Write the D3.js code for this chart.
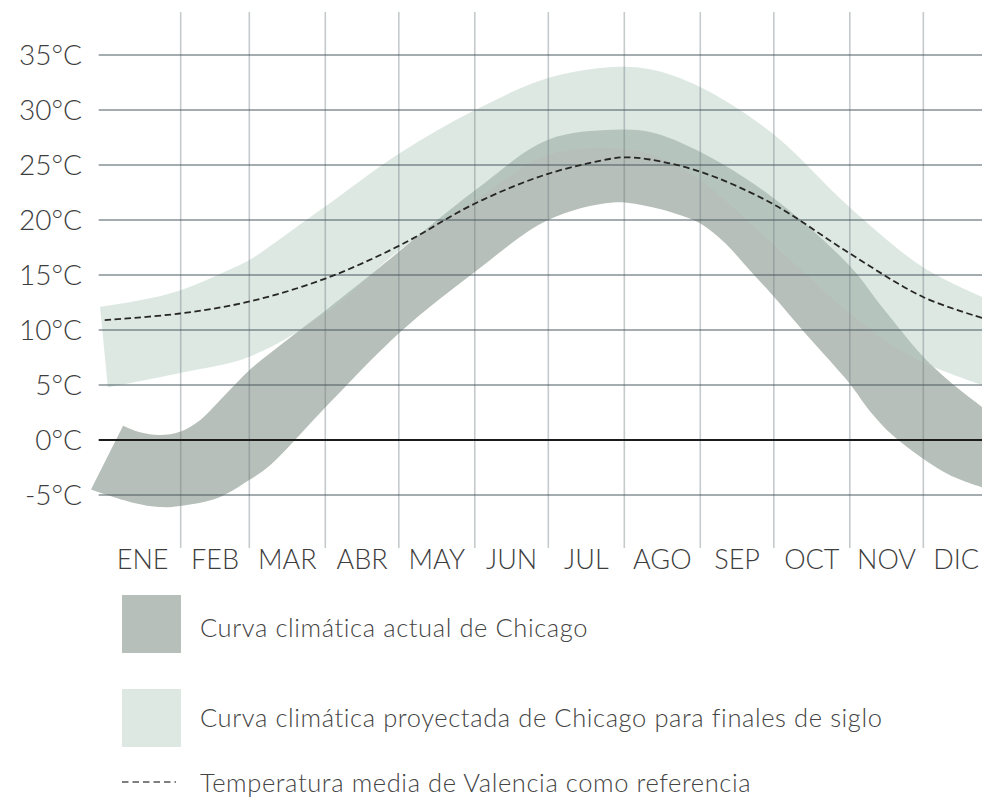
<!DOCTYPE html>
<html>
<head>
<meta charset="utf-8">
<script src="https://cdn.jsdelivr.net/npm/d3@7.9.0/dist/d3.min.js"></script>
<style>
  html, body { margin: 0; padding: 0; background: #fff; }
  svg { display: block; font-family: Lato, "Open Sans", sans-serif; font-weight: 300; }
</style>
</head>
<body>
<svg id="chart" width="982" height="801"></svg>
<script>
// month labels and lengths (non-leap year)
const months = ['ENE', 'FEB', 'MAR', 'ABR', 'MAY', 'JUN', 'JUL', 'AGO', 'SEP', 'OCT', 'NOV', 'DIC'];
const monthDays = [31, 28, 31, 30, 31, 30, 31, 31, 30, 31, 30, 31];
const tempTicks = [-5, 0, 5, 10, 15, 20, 25, 30, 35];

// [day of year, °C]
const actualHigh = [
  [7.5, 1.3], [14.4, 0.7], [22.6, 0.45], [30.7, 0.75], [38.9, 1.8], [48.3, 3.9],
  [59.3, 6.4], [75.6, 9.3], [91.9, 12.1], [111.1, 15.5], [151.1, 22.7], [180.9, 27.3],
  [207.4, 28.2], [222.5, 28.0], [242.9, 26.2], [272.3, 22.1], [304.1, 15.8],
  [317.5, 12.0], [333.9, 7.6], [344.9, 5.3], [358, 3.0]
];
const actualLow = [
  [-5.6, -4.5], [11.5, -5.7], [22.6, -6.1], [30.7, -6.0], [45.8, -5.3], [59.3, -3.6],
  [67.5, -2.3], [76.4, -0.3], [91.9, 3.4], [120.5, 9.8], [151.1, 15.3], [180.9, 20.0],
  [207.4, 21.6], [222.5, 21.2], [232.7, 20.6], [242.9, 19.7], [253.1, 17.9],
  [263.3, 15.4], [272.3, 13.2], [286.6, 9.5], [303.7, 5.2], [312.3, 2.6],
  [321.6, 0.4], [333.9, -1.7], [344.9, -3.2], [358, -4.3]
];
const projectedHigh = [
  [-1.9, 12.1], [14.4, 12.7], [30.7, 13.6], [51.1, 15.5], [59.3, 16.4], [87.9, 20.9],
  [120.5, 26.1], [151.1, 30.0], [180.9, 32.9], [207.4, 33.9], [222.5, 33.7],
  [242.9, 32.1], [272.3, 27.9], [303.7, 21.2], [333.9, 15.7], [358, 13.0]
];
const projectedLow = [
  [1.3, 4.8], [30.7, 6.1], [59.3, 7.6], [91.9, 11.8], [120.5, 17.3], [151.1, 21.8],
  [180.9, 25.9], [207.4, 26.5], [222.5, 26.0], [242.9, 23.6], [279.6, 16.4],
  [304.1, 11.5], [329.8, 7.5], [358, 5.0]
];
const valenciaMean = [
  [0, 10.9], [30.7, 11.5], [59.3, 12.6], [90.3, 14.7], [120.5, 17.7], [151.1, 21.5],
  [180.9, 24.2], [207.4, 25.6], [212.7, 25.7], [222.5, 25.5], [242.9, 24.4],
  [272.3, 21.5], [303.7, 17.0], [333.9, 13.0], [358, 11.1]
];

const legendItems = [
  'Curva climática actual de Chicago',
  'Curva climática proyectada de Chicago para finales de siglo',
  'Temperatura media de Valencia como referencia'
];

const svg = d3.select('#chart');

const x = d3.scaleLinear().domain([0, 365]).range([104.7, 999.3]);
const y = d3.scaleLinear().domain([-5, 35]).range([495, 55]);

const monthStarts = d3.cumsum([0, ...monthDays.slice(0, -1)]);

const line = d3.line()
  .x(d => x(d[0]))
  .y(d => y(d[1]))
  .curve(d3.curveCatmullRom.alpha(0.5));

// band = upper edge forward, lower edge back
function bandPath(high, low) {
  const top = line(high);
  const bottom = line(low.slice().reverse());
  return top + 'L' + bottom.slice(1) + 'Z';
}

// bands
svg.append('path')
  .attr('d', bandPath(actualHigh, actualLow))
  .attr('fill', '#b7bfba');

svg.append('path')
  .attr('d', bandPath(projectedHigh, projectedLow))
  .attr('fill', '#b3ccc1')
  .attr('fill-opacity', 0.45);

// vertical gridlines at month boundaries
svg.append('g')
  .selectAll('line')
  .data(monthStarts.slice(1))
  .join('line')
  .attr('x1', d => x(d))
  .attr('x2', d => x(d))
  .attr('y1', 12)
  .attr('y2', 548)
  .attr('stroke', 'rgba(110,122,128,0.4)')
  .attr('stroke-width', 1.6);

// horizontal gridlines
svg.append('g')
  .selectAll('line')
  .data(tempTicks.filter(d => d !== 0))
  .join('line')
  .attr('x1', 98.7)
  .attr('x2', 982)
  .attr('y1', d => y(d))
  .attr('y2', d => y(d))
  .attr('stroke', 'rgba(70,84,90,0.65)')
  .attr('stroke-width', 1.3);

// zero line
svg.append('line')
  .attr('x1', 98.7)
  .attr('x2', 982)
  .attr('y1', y(0))
  .attr('y2', y(0))
  .attr('stroke', '#1c1c1c')
  .attr('stroke-width', 2.2);

// Valencia reference
svg.append('path')
  .attr('d', line(valenciaMean))
  .attr('fill', 'none')
  .attr('stroke', '#262626')
  .attr('stroke-width', 1.8)
  .attr('stroke-dasharray', '6.5,3.5');

// y labels
svg.append('g')
  .selectAll('text')
  .data(tempTicks)
  .join('text')
  .attr('x', 82)
  .attr('y', d => y(d) + 10)
  .attr('text-anchor', 'end')
  .attr('font-size', 28)
  .attr('fill', '#3d3d3d')
  .text(d => `${d}°C`);

// month labels, the last one kept inside the frame
svg.append('g')
  .selectAll('text')
  .data(months)
  .join('text')
  .attr('x', (d, i) => x(monthStarts[i] + monthDays[i] / 2))
  .attr('y', 569)
  .attr('text-anchor', 'middle')
  .attr('font-size', 27)
  .attr('fill', '#3d3d3d')
  .text(d => d)
  .each(function () {
    const w = this.getComputedTextLength();
    const cx = +this.getAttribute('x');
    if (cx + w / 2 > 979) this.setAttribute('x', 979 - w / 2);
  });

// legend
const legend = svg.append('g');
legend.append('rect')
  .attr('x', 122).attr('y', 595).attr('width', 59).attr('height', 58)
  .attr('fill', '#b7bfba');
legend.append('rect')
  .attr('x', 122).attr('y', 689).attr('width', 59).attr('height', 58)
  .attr('fill', '#dde8e3');
legend.append('line')
  .attr('x1', 122).attr('x2', 176)
  .attr('y1', 782).attr('y2', 782)
  .attr('stroke', '#555')
  .attr('stroke-width', 1.3)
  .attr('stroke-dasharray', '6.5,4');

legend.selectAll('text')
  .data(legendItems)
  .join('text')
  .attr('x', 200)
  .attr('y', (d, i) => [637, 727, 792][i])
  .attr('font-size', 25.5)
  .attr('letter-spacing', 0.6)
  .attr('fill', '#444')
  .text(d => d);
</script>
</body>
</html>
